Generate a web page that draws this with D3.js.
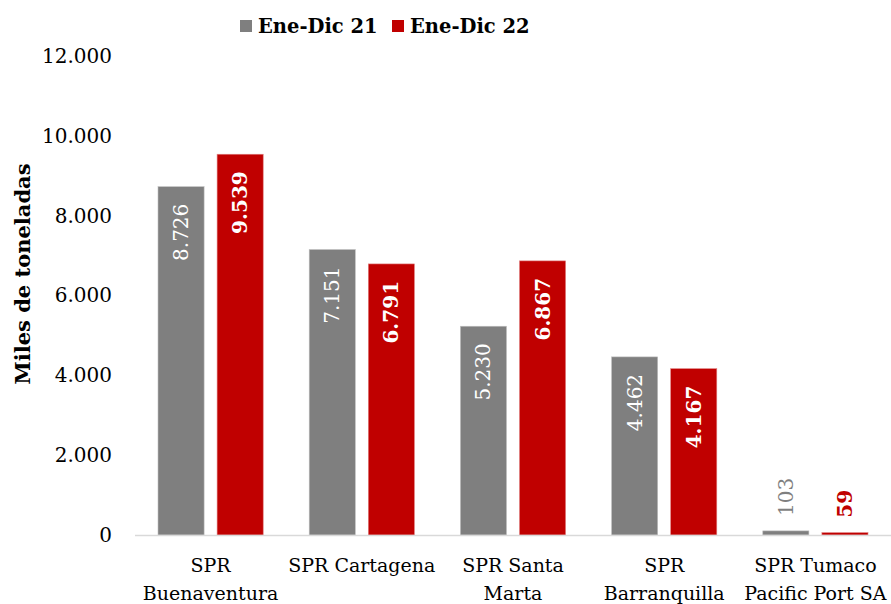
<!DOCTYPE html>
<html>
<head>
<meta charset="utf-8">
<script src="https://cdn.jsdelivr.net/npm/d3@7"></script>
<style>
  body { margin: 0; background: #fff; }
  svg { display: block; font-family: "DejaVu Serif", "Liberation Serif", serif; }
</style>
</head>
<body>
<div id="chart"></div>
<script>
const categories = [
    ["SPR", "Buenaventura"],
    ["SPR Cartagena"],
    ["SPR Santa", "Marta"],
    ["SPR", "Barranquilla"],
    ["SPR Tumaco", "Pacific Port SA"],
]
const seriesNames = ["Ene-Dic 21", "Ene-Dic 22"]
const values21 = [8726, 7151, 5230, 4462, 103]
const values22 = [9539, 6791, 6867, 4167, 59]
const yTicks = [0, 2000, 4000, 6000, 8000, 10000, 12000]
const colours = ["#7f7f7f", "#c00000"]

const width = 891
const height = 604
const margin = { top: 56, right: 0, bottom: 69, left: 135 }
const innerW = width - margin.left - margin.right
const innerH = height - margin.top - margin.bottom

const fmt = (v) => d3.format(",")(v).replace(/,/g, ".")

const svg = d3
    .select("#chart")
    .append("svg")
    .attr("width", width)
    .attr("height", height)

const g = svg
    .append("g")
    .attr("transform", "translate(" + margin.left + "," + margin.top + ")")

const x0 = d3
    .scaleBand()
    .domain(d3.range(categories.length))
    .range([0, innerW])
    .padding(0)

const x1 = d3
    .scaleBand()
    .domain([0, 1])
    .range([23, x0.bandwidth() - 23])
    .paddingInner(0.22)

const y = d3.scaleLinear().domain([0, 12000]).range([innerH, 0])

// y axis labels (no line)
const yAxis = g
    .append("g")
    .call(d3.axisLeft(y).tickValues(yTicks).tickFormat(fmt).tickSize(0).tickPadding(23))
yAxis.select(".domain").remove()
yAxis
    .selectAll("text")
    .attr("font-family", "DejaVu Serif")
    .attr("font-size", 20)
    .attr("fill", "#000")

// bars
const series = [values21, values22]
series.forEach((vals, si) => {
    g.append("g")
        .selectAll("rect")
        .data(vals)
        .enter()
        .append("rect")
        .attr("x", (d, i) => x0(i) + x1(si))
        .attr("y", (d) => y(d))
        .attr("width", x1.bandwidth())
        .attr("height", (d) => innerH - y(d))
        .attr("fill", colours[si])
        .attr("stroke", si === 0 ? "#bfbfbf" : "#e08080")
        .attr("stroke-width", 0.6)

    // value labels, rotated
    g.append("g")
        .selectAll("text")
        .data(vals)
        .enter()
        .append("text")
        .attr("transform", (d, i) => {
            const cx = x0(i) + x1(si) + x1.bandwidth() / 2
            const inside = innerH - y(d) > 80
            const ty = inside ? y(d) + 17 : y(d) - 15
            return "translate(" + cx + "," + ty + ") rotate(-90)"
        })
        .attr("text-anchor", (d) => (innerH - y(d) > 80 ? "end" : "start"))
        .attr("dominant-baseline", "central")
        .attr("font-size", 20)
        .attr("font-weight", si === 1 ? "bold" : "normal")
        .attr("fill", (d) => (innerH - y(d) > 80 ? "#fff" : colours[si]))
        .text((d) => fmt(d))
})

// x axis line
g.append("line")
    .attr("x1", 0)
    .attr("x2", innerW)
    .attr("y1", innerH + 0.5)
    .attr("y2", innerH + 0.5)
    .attr("stroke", "#d9d9d9")
    .attr("stroke-width", 1.5)

// category labels
const cat = g
    .append("g")
    .selectAll("text")
    .data(categories)
    .enter()
    .append("text")
    .attr("x", (d, i) => x0(i) + x0.bandwidth() / 2)
    .attr("y", innerH + 37)
    .attr("text-anchor", "middle")
    .attr("font-size", 19)
    .attr("fill", "#000")
cat.selectAll("tspan")
    .data((d) => d)
    .enter()
    .append("tspan")
    .attr("x", function () {
        return d3.select(this.parentNode).attr("x")
    })
    .attr("dy", (d, i) => (i === 0 ? 0 : 28))
    .text((d) => d)

// y axis title
svg.append("text")
    .attr("transform", "translate(22,274) rotate(-90)")
    .attr("text-anchor", "middle")
    .attr("dominant-baseline", "central")
    .attr("font-size", 21)
    .attr("font-weight", "bold")
    .attr("fill", "#000")
    .text("Miles de toneladas")

// legend
const legendX = [240, 392]
const legend = svg
    .append("g")
    .selectAll("g")
    .data(seriesNames)
    .enter()
    .append("g")
    .attr("transform", (d, i) => "translate(" + legendX[i] + ",20)")
legend
    .append("rect")
    .attr("width", 12)
    .attr("height", 12)
    .attr("fill", (d, i) => colours[i])
legend
    .append("text")
    .attr("x", 18)
    .attr("y", 13)
    .attr("font-size", 19.5)
    .attr("font-weight", "bold")
    .attr("fill", "#000")
    .text((d) => d)
</script>
</body>
</html>
